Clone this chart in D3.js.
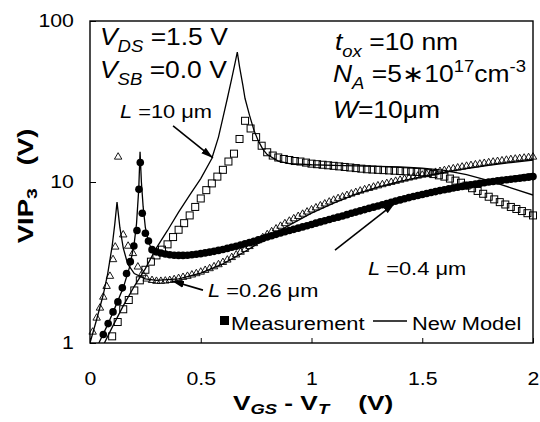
<!DOCTYPE html>
<html lang="en">
<head>
<meta charset="UTF-8">
<title>VIP3 vs VGS - VT</title>
<script src="https://cdn.jsdelivr.net/npm/d3@7"></script>
<style>
  body { margin: 0; background: #fff; }
  text { font-family: "Liberation Sans", Arial, sans-serif; fill: #000; }
</style>
</head>
<body>
<script>
// x ticks / y ticks
const xTicks = [0, 0.5, 1, 1.5, 2];
const yTicks = [1, 10, 100];

// L = 10 um, measurement (open squares)
const sqX = [0.100,0.125,0.150,0.175,0.200,0.225,0.250,0.275,0.300,0.325,0.350,0.375,0.400,0.425,0.450,0.475,0.500,0.525,0.550,0.575,
  0.600,0.625,0.650,0.675,0.700,0.725,0.750,0.775,0.800,0.825,0.850,0.875,0.900,0.925,0.950,0.975,1.000,1.025,1.050,1.075,
  1.100,1.125,1.150,1.175,1.200,1.225,1.250,1.275,1.300,1.325,1.350,1.375,1.400,1.425,1.450,1.475,1.500,1.525,1.550,1.575,
  1.600,1.625,1.650,1.675,1.700,1.725,1.750,1.775,1.800,1.825,1.850,1.875,1.900,1.925,1.950,1.975,2.000];
const sqV = [1.10,1.35,1.62,1.85,2.12,2.45,2.85,3.20,3.50,3.80,4.10,4.55,5.05,5.55,6.20,7.00,7.90,8.90,9.80,10.8,
  11.9,13.4,15.0,18.5,24.0,21.5,19.0,16.8,15.3,14.6,14.2,13.9,13.7,13.5,13.4,13.2,13.0,12.9,12.8,12.7,
  12.6,12.5,12.4,12.3,12.2,12.1,12.0,11.95,11.9,11.85,11.8,11.75,11.7,11.65,11.6,11.55,11.5,11.35,11.2,11.0,
  10.8,10.5,10.2,9.9,9.5,9.15,8.8,8.45,8.1,7.8,7.5,7.25,7.0,6.8,6.6,6.4,6.2];

// L = 0.4 um, measurement (filled circles)
const ciX = [0.060,0.082,0.104,0.126,0.146,0.165,0.182,0.198,0.212,0.221,0.227,0.236,0.250,0.264,0.280,
  0.30,0.32,0.34,0.36,0.38,0.40,0.42,0.44,0.46,0.48,0.50,0.52,0.54,0.56,0.58,0.60,0.62,0.64,0.66,0.68,
  0.70,0.72,0.74,0.76,0.78,0.80,0.82,0.84,0.86,0.88,0.90,0.92,0.94,0.96,0.98,1.00,1.02,1.04,1.06,1.08,
  1.10,1.12,1.14,1.16,1.18,1.20,1.22,1.24,1.26,1.28,1.30,1.32,1.34,1.36,1.38,1.40,1.42,1.44,1.46,1.48,
  1.50,1.52,1.54,1.56,1.58,1.60,1.62,1.64,1.66,1.68,1.70,1.72,1.74,1.76,1.78,1.80,1.82,1.84,1.86,1.88,
  1.90,1.92,1.94,1.96,1.98,2.00];
const ciV = [1.13,1.32,1.56,1.80,2.20,2.70,3.20,4.00,5.00,9.00,13.2,6.40,4.80,4.30,3.80,
  3.68,3.62,3.57,3.53,3.51,3.50,3.50,3.51,3.53,3.56,3.59,3.63,3.67,3.71,3.76,3.81,3.87,3.93,3.99,4.06,
  4.13,4.20,4.28,4.37,4.46,4.55,4.64,4.73,4.82,4.91,5.00,5.08,5.17,5.26,5.35,5.45,5.55,5.65,5.75,5.85,
  5.95,6.05,6.15,6.27,6.39,6.50,6.62,6.74,6.86,6.98,7.10,7.22,7.35,7.48,7.61,7.74,7.87,8.00,8.12,8.24,
  8.36,8.48,8.60,8.72,8.84,8.95,9.06,9.17,9.28,9.39,9.50,9.60,9.70,9.80,9.90,10.0,10.08,10.16,10.24,10.32,
  10.4,10.48,10.56,10.64,10.72,10.8];

// L = 0.26 um, measurement (open triangles)
const trX = [0.012,0.030,0.045,0.060,0.075,0.090,0.104,0.114,0.127,0.150,0.172,0.194,0.216,0.236,0.256,
  0.28,0.30,0.32,0.34,0.36,0.38,0.40,0.42,0.44,0.46,0.48,0.50,0.52,0.54,0.56,0.58,0.60,0.62,0.64,0.66,
  0.68,0.70,0.72,0.74,0.76,0.78,0.80,0.82,0.84,0.86,0.88,0.90,0.92,0.94,0.96,0.98,1.00,1.02,1.04,1.06,
  1.08,1.10,1.12,1.14,1.16,1.18,1.20,1.22,1.24,1.26,1.28,1.30,1.32,1.34,1.36,1.38,1.40,1.42,1.44,1.46,
  1.48,1.50,1.52,1.54,1.56,1.58,1.60,1.62,1.64,1.66,1.68,1.70,1.72,1.74,1.76,1.78,1.80,1.82,1.84,1.86,
  1.88,1.90,1.92,1.94,1.96,1.98,2.00];
const trV = [1.17,1.43,1.65,1.93,2.25,2.60,3.30,3.95,14.3,4.70,4.00,3.60,2.97,2.70,2.50,
  2.45,2.42,2.42,2.43,2.45,2.48,2.52,2.56,2.60,2.65,2.70,2.76,2.83,2.90,2.98,3.07,3.17,3.28,3.40,3.53,
  3.67,3.82,3.98,4.15,4.33,4.52,4.72,4.92,5.12,5.32,5.52,5.72,5.92,6.12,6.32,6.52,6.72,6.92,7.12,7.32,
  7.52,7.72,7.90,8.08,8.26,8.44,8.62,8.80,8.97,9.14,9.31,9.48,9.64,9.80,9.96,10.12,10.28,10.44,10.60,10.75,
  10.90,11.05,11.20,11.35,11.50,11.65,11.80,11.95,12.10,12.25,12.40,12.55,12.68,12.81,12.94,13.07,13.20,13.32,13.44,13.56,
  13.68,13.80,13.90,14.00,14.10,14.20,14.30];

// new model curves
const m10X = [0.065,0.10,0.15,0.20,0.25,0.30,0.35,0.40,0.45,0.50,0.55,0.58,0.60,0.62,0.64,0.655,0.665,0.675,0.69,0.70,
  0.72,0.74,0.76,0.78,0.80,0.85,0.90,1.0,1.1,1.2,1.3,1.4,1.5,1.6,1.7,1.8,1.9,2.0];
const m10V = [1.0,1.25,1.7,2.25,2.9,3.9,5.0,6.5,8.3,10.5,14,19,25,33,44,55,64,52,40,33,
  26,21,18,16,14.8,13.5,13.0,12.8,12.7,12.6,12.5,12.4,12.2,11.8,11.1,10.2,9.2,8.3];
const m04X = [0.04,0.08,0.12,0.15,0.18,0.20,0.21,0.22,0.226,0.232,0.24,0.25,0.265,0.28,0.30,0.35,0.40,0.50,0.60,0.70,
  0.80,0.90,1.0,1.2,1.4,1.6,1.8,2.0];
const m04V = [1.0,1.3,1.75,2.2,3.0,4.2,5.5,9.0,15.4,10,7,5.2,4.2,3.8,3.6,3.52,3.52,3.62,3.85,4.18,
  4.6,5.05,5.55,6.65,7.9,9.1,10.3,11.3];
const m026X = [0.0,0.03,0.06,0.08,0.10,0.112,0.122,0.135,0.15,0.17,0.20,0.25,0.30,0.40,0.50,0.60,0.70,0.80,0.90,1.0,
  1.1,1.2,1.3,1.4,1.5,1.6,1.7,1.8,1.9,2.0];
const m026V = [1.0,1.4,2.0,2.7,4.0,5.5,7.5,5.2,3.9,3.1,2.7,2.5,2.45,2.5,2.72,3.1,3.7,4.5,5.4,6.4,
  7.4,8.4,9.3,10.1,10.8,11.5,12.1,12.7,13.2,13.7];

const SX = 1.15; // the glyphs in the figure are a bit wider than Arial
const NB = "\u00a0";

const svg = d3.select("body").append("svg")
  .attr("width", 540)
  .attr("height", 422);

const x = d3.scaleLinear().domain([0, 2]).range([90, 533]);
const y = d3.scaleLog().domain([1, 100]).range([343, 21]);

const zip = (xs, vs) => xs.map((d, i) => [d, vs[i]]);

svg.append("defs").append("clipPath").attr("id", "plot")
  .append("rect").attr("x", 90).attr("y", 21).attr("width", 443).attr("height", 322);

svg.select("defs").append("marker")
  .attr("id", "head")
  .attr("viewBox", "0 -4 12 8")
  .attr("refX", 12).attr("refY", 0)
  .attr("markerWidth", 12).attr("markerHeight", 8)
  .attr("markerUnits", "userSpaceOnUse")
  .attr("orient", "auto")
  .append("path").attr("d", "M0,-3.5L12,0L0,3.5Z").attr("fill", "#000");

// axes
const xAxis = d3.axisBottom(x).tickValues(xTicks).tickFormat(d => d)
  .tickSizeInner(-5).tickSizeOuter(0).tickPadding(29);
const gx = svg.append("g").attr("transform", "translate(0,343)").call(xAxis);
gx.select(".domain").remove();
gx.selectAll("line").attr("stroke", "#000");
gx.selectAll("text").attr("font-size", 18.5).attr("font-family", null)
  .attr("transform", `scale(${SX},1)`);

const yAxis = d3.axisLeft(y).tickValues(yTicks).tickFormat(d3.format("d"))
  .tickSizeInner(-6).tickSizeOuter(0).tickPadding(14);
const gy = svg.append("g").attr("transform", "translate(90,0)").call(yAxis);
gy.select(".domain").remove();
gy.selectAll("line").attr("stroke", "#000");
gy.selectAll("text").attr("font-size", 18.5).attr("font-family", null)
  .attr("transform", `scale(${SX},1)`);

// frame
svg.append("rect").attr("x", 90).attr("y", 21).attr("width", 443).attr("height", 322)
  .attr("fill", "none").attr("stroke", "#000").attr("stroke-width", 1.4);

const plot = svg.append("g");

// measurements
plot.append("g").selectAll("rect").data(zip(sqX, sqV)).join("rect")
  .attr("x", d => x(d[0]) - 3.5).attr("y", d => y(d[1]) - 3.5)
  .attr("width", 7).attr("height", 7)
  .attr("fill", "none").attr("stroke", "#000").attr("stroke-width", 1);

plot.append("g").selectAll("path").data(zip(trX, trV)).join("path")
  .attr("d", d3.symbol(d3.symbolTriangle, 24))
  .attr("transform", d => `translate(${x(d[0])},${y(d[1])})`)
  .attr("fill", "none").attr("stroke", "#000").attr("stroke-width", 0.9);

plot.append("g").selectAll("circle").data(zip(ciX, ciV)).join("circle")
  .attr("cx", d => x(d[0])).attr("cy", d => y(d[1])).attr("r", 3.8)
  .attr("fill", "#000");

// model lines
const line = d3.line().x(d => x(d[0])).y(d => y(d[1]));
[[m10X, m10V], [m04X, m04V], [m026X, m026V]].forEach(([xs, vs]) => {
  plot.append("path").datum(zip(xs, vs))
    .attr("clip-path", "url(#plot)")
    .attr("d", line)
    .attr("fill", "none").attr("stroke", "#000").attr("stroke-width", 1.3);
});

// text with sub / superscripts
function rich(px, py, parts, size, opts = {}) {
  const sx = opts.sx || SX;
  const t = svg.append("text")
    .attr("transform", `translate(${px},${py})${opts.rot ? " rotate(-90)" : ""} scale(${sx},1)`)
    .attr("font-size", size)
    .attr("font-weight", opts.bold ? "bold" : null)
    .attr("text-anchor", opts.anchor || "start");
  let cur = 0;
  parts.forEach(p => {
    const shift = p.sub ? size * (opts.subShift || 0.3) : p.sup ? -size * 0.42 : 0;
    const ts = t.append("tspan").attr("dy", shift - cur).text(p.t);
    cur = shift;
    if (p.sub || p.sup) ts.attr("font-size", size * 0.7);
    if (p.i) ts.attr("font-style", "italic");
  });
  return t;
}

// axis titles
rich(233, 410, [{t: "V"}, {t: "GS", sub: true, i: true}, {t: NB + "-" + NB + "V"}, {t: "T", sub: true, i: true},
  {t: NB + NB + NB + NB + "(V)"}], 21, {bold: true, sx: 1.25, subShift: 0.2});
rich(33, 186, [{t: "VIP"}, {t: "3", sub: true}, {t: NB + NB + NB + "(V)"}], 22,
  {bold: true, anchor: "middle", rot: true, sx: 1.25, subShift: 0.2});

// conditions
rich(x(0.045), y(71), [{t: "V", i: true}, {t: "DS", i: true, sub: true}, {t: " =1.5 V"}], 23);
rich(x(0.045), y(44.3), [{t: "V", i: true}, {t: "SB", i: true, sub: true}, {t: " =0.0 V"}], 23);
rich(x(1.106), y(66), [{t: "t", i: true}, {t: "ox", i: true, sub: true}, {t: " =10 nm"}], 23);
rich(x(1.097), y(41.8), [{t: "N", i: true}, {t: "A", i: true, sub: true}, {t: " =5\u221710"},
  {t: "17", sup: true}, {t: "cm"}, {t: "-3", sup: true}], 23);
rich(x(1.097), y(25), [{t: "W", i: true}, {t: "=10\u03bcm"}], 23);

// curve labels
rich(x(0.135), y(25), [{t: "L", i: true}, {t: " =10 \u03bcm"}], 19);
rich(x(0.533), y(1.93), [{t: "L", i: true}, {t: " =0.26 \u03bcm"}], 19);
rich(x(1.255), y(2.64), [{t: "L", i: true}, {t: " =0.4 \u03bcm"}], 19);

// arrows
const arrows = [
  [[0.375, 22.3], [0.555, 14.1]],
  [[0.51, 2.13], [0.37, 2.43]],
  [[1.106, 3.78], [1.377, 7.4]]
];
arrows.forEach(([a, b]) => {
  svg.append("line")
    .attr("x1", x(a[0])).attr("y1", y(a[1]))
    .attr("x2", x(b[0])).attr("y2", y(b[1]))
    .attr("stroke", "#000").attr("stroke-width", 1.6)
    .attr("marker-end", "url(#head)");
});

// legend
svg.append("rect").attr("x", 220).attr("y", 316).attr("width", 9).attr("height", 9).attr("fill", "#000");
rich(231, 330, [{t: "Measurement"}], 19);
svg.append("line").attr("x1", 373).attr("x2", 407).attr("y1", 321).attr("y2", 321)
  .attr("stroke", "#000").attr("stroke-width", 1.5);
rich(412, 330, [{t: "New Model"}], 19);
</script>
</body>
</html>
